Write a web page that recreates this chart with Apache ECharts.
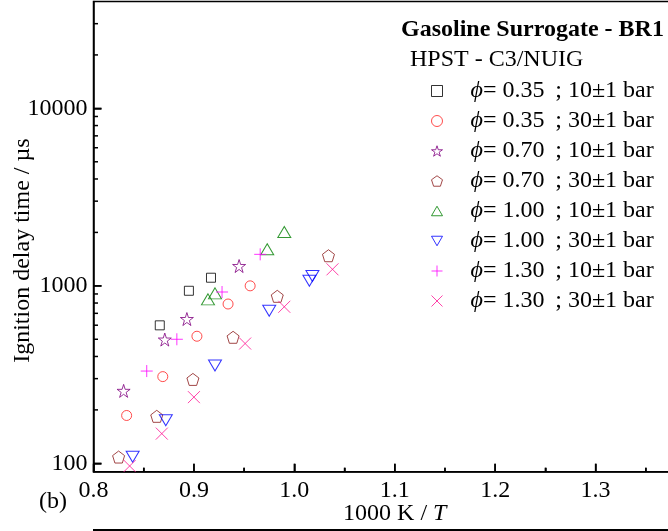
<!DOCTYPE html>
<html><head><meta charset="utf-8">
<script src="https://cdn.jsdelivr.net/npm/echarts@6/dist/echarts.min.js"></script>
<style>html,body{margin:0;padding:0;background:#fff}#c{width:668px;height:531px}</style>
</head><body><div id="c"></div>
<script>
// ---- data (1000K/T, ignition delay time in µs) ----
const seriesLabels = ['0.35 ; 10±1 bar','0.35 ; 30±1 bar','0.70 ; 10±1 bar','0.70 ; 30±1 bar',
                      '1.00 ; 10±1 bar','1.00 ; 30±1 bar','1.30 ; 10±1 bar','1.30 ; 30±1 bar'];
const phi035_10bar = [[0.866,599],[0.895,938],[0.917,1111]];
const phi035_30bar = [[0.833,186],[0.869,308],[0.903,520],[0.934,790],[0.956,1000]];
const phi070_10bar = [[0.830,256],[0.871,498],[0.893,650],[0.945,1293]];
const phi070_30bar = [[0.825,108.5],[0.863,184],[0.899,297],[0.939,513],[0.983,873],[1.034,1478]];
const phi100_10bar = [[0.914,839],[0.921,907],[0.973,1606],[0.990,2010]];
const phi100_30bar = [[0.839,109],[0.872,175],[0.921,356],[0.975,724],[1.015,1068],[1.018,1136]];
const phi130_10bar = [[0.853,331],[0.883,500],[0.928,923],[0.966,1505]];
const phi130_30bar = [[0.836,96.6],[0.868,147],[0.900,236],[0.951,473],[0.990,762],[1.038,1239]];
const xMajorTicks = [0.8,0.9,1.0,1.1,1.2,1.3,1.4];
const xMinorTicks = [0.85,0.95,1.05,1.15,1.25,1.35];
const yMajorTicks = [100,1000,10000];
const yMinorTicks = [200,300,400,500,600,700,800,900,2000,3000,4000,5000,6000,7000,8000,9000,20000,30000];

const F = "'Liberation Serif','Times New Roman',serif";
const STAR = 'path://M0,-100L22.45,-30.9L95.1,-30.9L36.3,11.8L58.8,80.9L0,38.2L-58.8,80.9L-36.3,11.8L-95.1,-30.9L-22.45,-30.9Z';
const PENT = 'path://M0,-100L95.1,-30.9L58.8,80.9L-58.8,80.9L-95.1,-30.9Z';
const TRI_UP = 'path://M0,-100L100,73L-100,73Z';
const TRI_DN = 'path://M0,100L-100,-73L100,-73Z';
const PLUS = 'path://M0,-100L0,100M-100,0L100,0';
const CROSS = 'path://M-100,-100L100,100M-100,100L100,-100';

const defs = [
  {d: phi035_10bar, sym: 'rect',   size: 9,       c: '#000000'},
  {d: phi035_30bar, sym: 'circle', size: 10,      c: '#ff2020'},
  {d: phi070_10bar, sym: STAR,     size: 13,      c: '#800080'},
  {d: phi070_30bar, sym: PENT,     size: 12,      c: '#8b1a1a'},
  {d: phi100_10bar, sym: TRI_UP,   size: [13,11], c: '#008000'},
  {d: phi100_30bar, sym: TRI_DN,   size: [13,11], c: '#0000ff'},
  {d: phi130_10bar, sym: PLUS,     size: 12,      c: '#ff00ff'},
  {d: phi130_30bar, sym: CROSS,    size: 12,      c: '#ff1493'}
];

const xMin = 0.8, xMax = 1.4, yMin = 89.7, yMax = 40000;
const chart = echarts.init(document.getElementById('c'), null, {renderer: 'canvas'});
const axisLineStyle = {color: '#000', width: 1.5};
const tickStyle = {color: '#000', width: 1.5};

const scatterSeries = defs.map((s, i) => ({
  type: 'scatter', name: seriesLabels[i], data: s.d,
  symbol: s.sym, symbolSize: s.size,
  itemStyle: {color: 'rgba(0,0,0,0)', borderColor: s.c, borderWidth: 1},
  emphasis: {disabled: true}, z: 3
}));

const baseGraphic = [
  {id: 'plabel', type: 'text', left: 39, top: 490, style: {text: '(b)', font: '24px ' + F, fill: '#000'}},
  {id: 'nextpanel', type: 'line', shape: {x1: 93, y1: 530, x2: 668, y2: 530}, style: {stroke: '#000', lineWidth: 2}}
];

chart.setOption({
  animation: false,
  backgroundColor: '#fff',
  grid: {left: 93.5, right: -28, top: 1.5, bottom: 59.3, outerBoundsMode: 'none', containLabel: false,
         show: true, borderColor: '#000', borderWidth: 1.5, backgroundColor: 'transparent'},
  title: [
    {text: 'Gasoline Surrogate - BR1', left: 401, top: 18, padding: 0,
     textStyle: {fontFamily: F, fontSize: 24, fontWeight: 'bold', color: '#000'}},
    {text: 'HPST - C3/NUIG', left: 410, top: 48, padding: 0,
     textStyle: {fontFamily: F, fontSize: 24, fontWeight: 'normal', color: '#000'}}
  ],
  legend: {
    orient: 'vertical', left: 431, top: 79, padding: 0,
    itemWidth: 11, itemHeight: 11, itemGap: 6,
    itemStyle: {borderWidth: 1},
    selectedMode: false,
    textStyle: {fontFamily: F, fontSize: 24, color: '#000', lineHeight: 24,
      rich: {
        p: {fontFamily: F, fontSize: 24, fontStyle: 'italic', color: '#000', padding: [0, 0, 0, 23]},
        t: {fontFamily: F, fontSize: 24, color: '#000'}
      }},
    formatter: name => '{p|\u03d5}{t|= ' + name.replace(' ; ', '\u2009 ; ') + '}',
    data: seriesLabels
  },
  xAxis: [{
    type: 'value', min: xMin, max: xMax, interval: 0.1,
    axisLine: {show: true, lineStyle: axisLineStyle},
    axisTick: {show: true, inside: true, length: 8, lineStyle: tickStyle},
    minorTick: {show: true, splitNumber: 2, length: 4, lineStyle: tickStyle},
    splitLine: {show: false},
    axisLabel: {fontFamily: F, fontSize: 24, color: '#000', margin: 7, formatter: v => v.toFixed(1)},
    name: '1000 K / {i|T}', nameLocation: 'middle', nameGap: 30, nameMoveOverlap: false,
    nameTextStyle: {fontFamily: F, fontSize: 24, color: '#000',
      rich: {i: {fontFamily: F, fontSize: 24, fontStyle: 'italic', color: '#000'}}}
  }],
  yAxis: [{
    type: 'log', logBase: 10, min: yMin, max: yMax,
    axisLine: {show: true, lineStyle: axisLineStyle},
    axisTick: {show: true, inside: true, length: 8, lineStyle: tickStyle},
    splitLine: {show: false},
    axisLabel: {fontFamily: F, fontSize: 24, color: '#000', margin: 6, showMinLabel: false, showMaxLabel: false,
                formatter: v => String(Math.round(v))},
    name: 'Ignition delay time / µs', nameLocation: 'middle', nameGap: 59, nameMoveOverlap: false,
    nameTextStyle: {fontFamily: F, fontSize: 24, color: '#000', padding: [0, 28, 0, 0]}
  }],
  graphic: baseGraphic,
  series: scatterSeries
});

// Tick marks placed through the chart's own axis scales (convertToPixel)
const tickLines = [];
const x0px = chart.convertToPixel({gridIndex: 0}, [xMin, yMin]);
const tickEl = (id, x1, y1, x2, y2) => ({id, type: 'line', z: 100, silent: true,
  shape: {x1, y1, x2, y2}, style: {stroke: '#000', lineWidth: 1.5}});
xMajorTicks.forEach((v, i) => { const p = chart.convertToPixel({gridIndex: 0}, [v, yMin]);
  tickLines.push(tickEl('xM' + i, p[0], p[1], p[0], p[1] - 8)); });
xMinorTicks.forEach((v, i) => { const p = chart.convertToPixel({gridIndex: 0}, [v, yMin]);
  tickLines.push(tickEl('xm' + i, p[0], p[1], p[0], p[1] - 4)); });
yMajorTicks.forEach((v, i) => { const p = chart.convertToPixel({gridIndex: 0}, [xMin, v]);
  tickLines.push(tickEl('yM' + i, p[0], p[1], p[0] + 8, p[1])); });
yMinorTicks.forEach((v, i) => { const p = chart.convertToPixel({gridIndex: 0}, [xMin, v]);
  tickLines.push(tickEl('ym' + i, p[0], p[1], p[0] + 4.5, p[1])); });
chart.setOption({graphic: baseGraphic.concat(tickLines)});
</script></body></html>
